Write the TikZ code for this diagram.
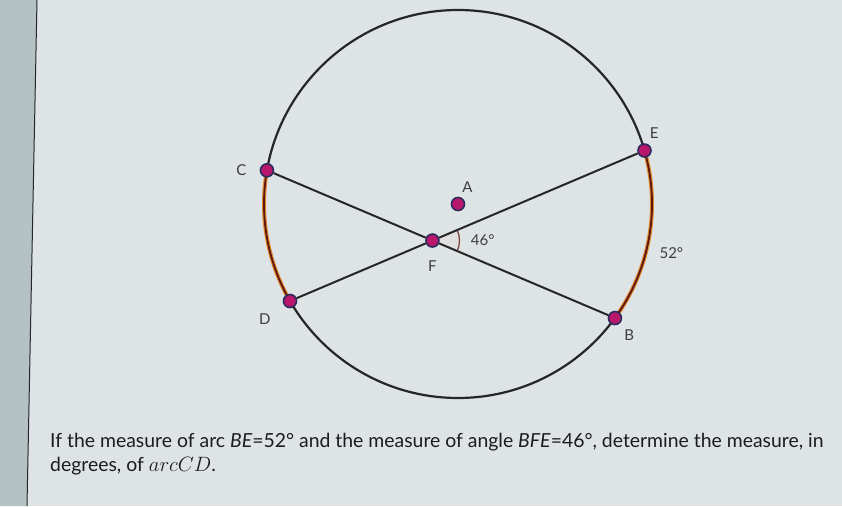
\documentclass[tikz,border=0pt]{standalone}
\usepackage{fontspec}
\setmainfont{Lato}
\usetikzlibrary{positioning,calc}
\definecolor{bgmain}{HTML}{DEE3E5}
\definecolor{bgleft}{HTML}{B4C1C5}
\definecolor{ink}{HTML}{262628}
\definecolor{ptfill}{HTML}{B8176C}
\definecolor{ptedge}{HTML}{2C2B5E}
\definecolor{arcglow}{HTML}{E0892C}
\definecolor{arcdark}{HTML}{5C1610}
\definecolor{txt}{HTML}{1C1C1E}
\tikzstyle{pt}=[circle, draw=ptedge, fill=ptfill, line width=1.6pt, minimum size=13pt, inner sep=0pt]
\tikzstyle{lbl}=[inner sep=0pt, text=txt!85, font=\fontsize{15}{17}\selectfont]
\tikzstyle{chord}=[draw=ink, line width=2pt]
\tikzstyle{question}=[inner sep=0pt, anchor=base west, text=txt, font=\fontsize{19.4}{23}\selectfont]
\begin{document}
\begin{tikzpicture}[x=1pt,y=1pt,node distance=10pt]
% background
\fill[bgmain] (0,0) rectangle (842,506);
\fill[bgleft] (0,0) -- (27,0) -- (37,506) -- (0,506) -- cycle;
\useasboundingbox (0,0) rectangle (842,506);
\draw[ink, line width=1pt] (37,506) -- (27,0);
% points on the circle
\coordinate (pA) at (458,302);
\coordinate (pC) at ($(pA)+(170:194)$);
\coordinate (pD) at ($(pA)+(210:194)$);
\coordinate (pE) at ($(pA)+(16:194)$);
\coordinate (pB) at ($(pA)+(-36:194)$);
\coordinate (pF) at (intersection of pC--pB and pD--pE);
\draw[ink, line width=2.2pt] (pA) circle[radius=194pt];
% arcs CD and BE
\draw[arcglow, line width=4pt] (pC) arc[start angle=170, end angle=210, radius=194pt];
\draw[arcdark, line width=1.8pt] (pC) arc[start angle=170, end angle=210, radius=194pt];
\draw[arcglow, line width=4pt] (pB) arc[start angle=-36, end angle=16, radius=194pt];
\draw[arcdark, line width=1.8pt] (pB) arc[start angle=-36, end angle=16, radius=194pt];
% angle BFE
\fill[black!12] let \p1=($(pE)-(pF)$), \p2=($(pB)-(pF)$), \n1={atan2(\y1,\x1)}, \n2={atan2(\y2,\x2)} in
  (pF) -- ++(\n2:27) arc[start angle=\n2, end angle=\n1, radius=27pt] -- cycle;
\draw[arcdark!80, line width=1.3pt] let \p1=($(pE)-(pF)$), \p2=($(pB)-(pF)$), \n1={atan2(\y1,\x1)}, \n2={atan2(\y2,\x2)} in
  ($(pF)+(\n2:27)$) arc[start angle=\n2, end angle=\n1, radius=27pt];
\node (A) [pt] at (pA) {};
\node (C) [pt] at (pC) {};
\node (D) [pt] at (pD) {};
\node (E) [pt] at (pE) {};
\node (B) [pt] at (pB) {};
\node (F) [pt] at (pF) {};
\draw[chord] (C) -- (F) -- (B);
\draw[chord] (D) -- (F) -- (E);
% labels
\node (lblA) [lbl, above right=6pt and -1pt of A] {A};
\node (lblC) [lbl, left=13pt of C] {C};
\node (lblD) [lbl, below left=7pt and 14pt of D] {D};
\node (lblE) [lbl, above right=7pt and 0pt of E] {E};
\node (lblB) [lbl, below right=6pt and 4pt of B] {B};
\node (lblF) [lbl, below=13pt of F] {F};
\node (lblBFE) [lbl, right=31pt of F] {46°};
\node (lblBE) [lbl] at ($(pA)+(-13:219)$) {52°};
% question
\node (q1) [question] at (50,59) {If the measure of arc \textit{BE}=52° and the measure of angle \textit{BFE}=46°, determine the measure, in};
\node (q2) [question] at ($(q1.base west)+(0,-24)$) {degrees, of $arcCD$.};
\end{tikzpicture}
\end{document}
